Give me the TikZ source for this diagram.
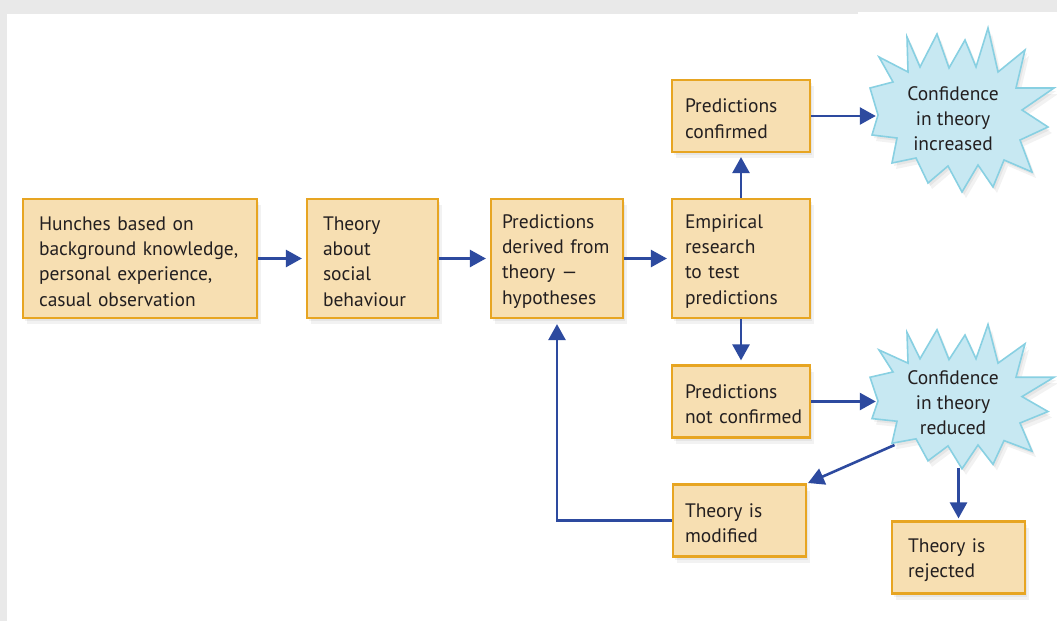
\documentclass[tikz,border=0pt]{standalone}
\usepackage{fontspec}
\setmainfont{PT Sans}
\usetikzlibrary{arrows.meta,shadows,shapes.geometric}
\definecolor{boxfill}{HTML}{F7DFB2}
\definecolor{boxline}{HTML}{E7A522}
\definecolor{starfill}{HTML}{C7E8F2}
\definecolor{starline}{HTML}{88D0E2}
\definecolor{arrowc}{HTML}{2D4A9F}
\definecolor{txt}{HTML}{231F20}
\definecolor{bggray}{HTML}{E9E9E9}
\hyphenpenalty=10000
\exhyphenpenalty=10000
\newcommand\burstpts{(-75,0) (-83,-27) (-60,-33) (-74,-58) (-45,-43) (-46,-78) (-33,-48) (-16,-81) (-4,-47) (12,-75) (23,-48) (35,-87) (45,-43) (72,-65) (63,-27) (101,-27) (69,-5) (95,12) (67,25) (79,57) (51,45) (40,72) (25,50) (9,77) (-5,51) (-25,68) (-37,43) (-61,48) (-56,23) (-81,20)}
\begin{document}
\begin{tikzpicture}[x=1pt,y=-1pt,
  soft/.style={general shadow={fill=black,opacity=.05,shadow xshift=2pt,shadow yshift=-3pt},
               general shadow={fill=black,opacity=.05,shadow xshift=4pt,shadow yshift=-6pt}},
  txtfont/.style={font=\fontsize{19.5}{25.3}\selectfont},
  box/.style={rectangle, draw=boxline, fill=boxfill, line width=2.2pt, text=txt,
              align=left, inner ysep=0pt, txtfont, soft,
              execute at begin node={\rule{0pt}{19.5pt}}},
  burst/.style={draw=starline, fill=starfill, line width=1.6pt, line join=miter, soft},
  startext/.style={ellipse, minimum width=154pt, minimum height=130pt, inner sep=0pt,
              text=txt, align=center, txtfont},
  arr/.style={draw=arrowc, line width=2.6pt, -{Triangle[length=16pt,width=17pt]}, shorten >=4pt}
]
% background
\fill[bggray] (0,0) rectangle (1057,621);
\fill[white] (7,14) rectangle (1057,621);
\fill[white] (858,12) rectangle (1057,14);
\useasboundingbox (0,0) rectangle (1057,621);

% starbursts
\coordinate (c1) at (953,115);
\coordinate (c2) at (953,401);
\path[burst, shift={(c1)}] plot coordinates {\burstpts} -- cycle;
\path[burst, shift={(c2)}, yscale=0.88] plot coordinates {\burstpts} -- cycle;
\node[startext] (s1) at (953,118.5) {Confidence\\in theory\\increased};
\node[startext] (s2) at (953,402.5) {Confidence\\in theory\\reduced};

% boxes
\node[box, text width=202pt, inner xsep=16pt, minimum height=119pt] (b1) at (140,258.5)
  {Hunches~based~on\\background~knowledge,\\personal~experience,\\casual~observation};
\node[box, text width=99pt, inner xsep=16pt, minimum height=119pt] (b2) at (372.5,258.5)
  {Theory\\about\\social\\behaviour};
\node[box, text width=110pt, inner xsep=11pt, minimum height=119pt] (b3) at (557,258.5)
  {Predictions\\derived~from\\theory~—\\hypotheses};
\node[box, text width=112pt, inner xsep=13pt, minimum height=119pt] (b4) at (741,258.5)
  {Empirical\\research\\to~test\\predictions};
\node[box, text width=112pt, inner xsep=13pt, minimum height=72pt] (b5) at (741,116)
  {Predictions\\confirmed};
\node[box, text width=112pt, inner xsep=13pt, minimum height=72pt] (b6) at (741,401.5)
  {Predictions\\not~confirmed};
\node[box, text width=109pt, inner xsep=12pt, minimum height=72pt] (b7) at (739.5,520.5)
  {Theory~is\\modified};
\node[box, text width=101pt, inner xsep=16pt, minimum height=72pt] (b8) at (958.5,557.5)
  {Theory~is\\rejected};

% connectors
\draw[arr] (b1) -- (b2);
\draw[arr] (b2) -- (b3);
\draw[arr] (b3) -- (b4);
\draw[arr] (b4) -- (b5);
\draw[arr] (b4) -- (b6);
\draw[arr, shorten >=0pt] (b5) -- (s1.west |- b5.east);
\draw[arr, shorten >=0pt] (b6.east) -- (s2.west |- b6.east);
\draw[arr, shorten >=1pt] (s2.216) -- (b7.north east);
\draw[arr, shorten >=2pt] (s2.south -| b8.north) -- (b8.north);
\draw[arr, shorten >=5pt] (b7.west) -- (b3.south |- b7.west) -- (b3.south);
\end{tikzpicture}
\end{document}
